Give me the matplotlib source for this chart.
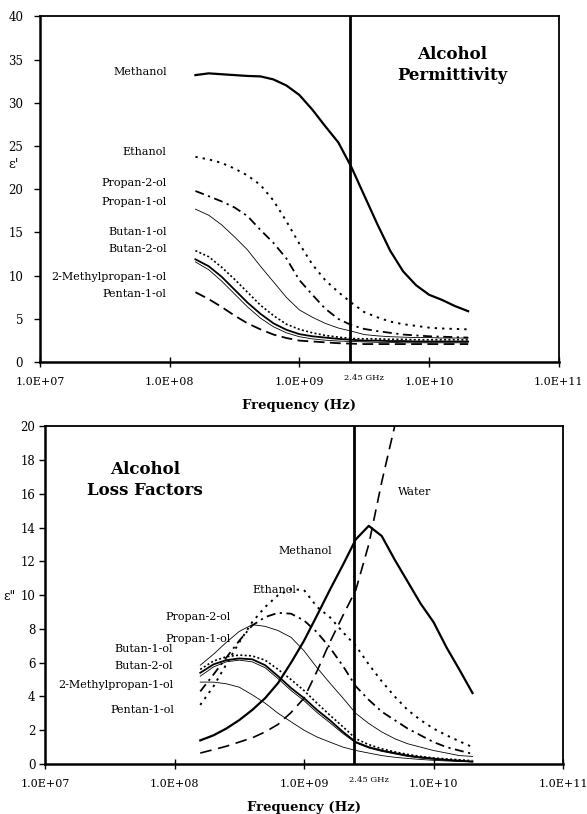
import math
import matplotlib
matplotlib.use("Agg")
import matplotlib.pyplot as plt
from matplotlib.ticker import FixedLocator, FuncFormatter

plt.rcParams["font.family"] = ["DejaVu Serif"]

# measurement frequencies (Hz)
freq = [1.58e8, 2.0e8, 2.51e8, 3.16e8, 3.98e8, 5.01e8, 6.31e8, 7.94e8,
        1.0e9, 1.26e9, 1.58e9, 2.0e9, 2.51e9, 3.16e9, 3.98e9, 5.01e9,
        6.31e9, 7.94e9, 1.0e10, 1.26e10, 1.58e10, 2.0e10]
water_freq = freq[:16]

# --- permittivity e' ---
perm_methanol = [33.2, 33.4, 33.3, 33.2, 33.1, 33.05, 32.7, 32.0, 30.9, 29.2, 27.3,
                 25.4, 22.6, 19.3, 16.0, 12.9, 10.5, 8.9, 7.8, 7.2, 6.5, 5.9]
perm_ethanol = [23.75, 23.45, 23.05, 22.4, 21.6, 20.5, 18.7, 16.3, 13.7, 11.3, 9.5,
                8.1, 6.9, 5.8, 5.2, 4.7, 4.4, 4.2, 4.0, 3.9, 3.85, 3.8]
perm_propan2 = [19.8, 19.2, 18.6, 17.9, 16.9, 15.3, 13.8, 12.0, 9.5, 7.8, 6.2,
                5.0, 4.3, 3.85, 3.6, 3.4, 3.2, 3.1, 3.0, 2.95, 2.9, 2.85]
perm_propan1 = [17.7, 17.0, 15.9, 14.5, 13.0, 11.1, 9.3, 7.5, 6.05, 5.2, 4.5,
                3.95, 3.6, 3.2, 3.05, 2.95, 2.9, 2.85, 2.85, 2.8, 2.8, 2.8]
perm_butan1 = [12.9, 12.2, 11.0, 9.6, 8.1, 6.6, 5.4, 4.4, 3.8, 3.4, 3.1,
               2.9, 2.75, 2.7, 2.7, 2.65, 2.65, 2.6, 2.6, 2.6, 2.6, 2.6]
perm_butan2 = [11.9, 11.1, 9.9, 8.4, 6.9, 5.6, 4.5, 3.75, 3.25, 3.0, 2.85,
               2.7, 2.6, 2.5, 2.5, 2.45, 2.45, 2.4, 2.4, 2.4, 2.4, 2.4]
perm_methylpropan = [11.6, 10.7, 9.4, 7.9, 6.4, 5.1, 4.1, 3.4, 2.95, 2.7, 2.55,
                     2.45, 2.4, 2.35, 2.3, 2.3, 2.25, 2.25, 2.25, 2.25, 2.25, 2.25]
perm_pentan = [8.1, 7.3, 6.4, 5.4, 4.5, 3.8, 3.2, 2.8, 2.5, 2.4, 2.3,
               2.2, 2.15, 2.1, 2.1, 2.1, 2.1, 2.1, 2.1, 2.1, 2.1, 2.1]

# --- loss factor e'' ---
loss_water = [0.65, 0.85, 1.05, 1.3, 1.55, 1.9, 2.35, 3.05, 3.9, 5.5, 7.2,
              8.8, 10.3, 13.0, 16.7, 20.0]
loss_methanol = [1.4, 1.7, 2.1, 2.6, 3.2, 3.9, 4.8, 6.0, 7.3, 8.8, 10.3,
                 11.8, 13.3, 14.1, 13.5, 12.1, 10.8, 9.5, 8.4, 6.9, 5.6, 4.2]
loss_ethanol = [3.5, 4.6, 5.9, 7.2, 8.4, 9.3, 10.0, 10.35, 10.3, 9.3, 8.7,
                7.8, 7.0, 5.9, 4.9, 4.0, 3.2, 2.6, 2.1, 1.7, 1.35, 1.0]
loss_propan2 = [4.3, 5.3, 6.3, 7.3, 8.2, 8.7, 8.95, 8.9, 8.5, 7.8, 6.9,
                5.8, 4.6, 3.8, 3.1, 2.6, 2.1, 1.7, 1.3, 1.0, 0.8, 0.6]
loss_propan1 = [5.85, 6.5, 7.2, 7.85, 8.25, 8.15, 7.9, 7.5, 6.7, 5.7, 4.8,
                3.9, 3.0, 2.4, 1.9, 1.5, 1.2, 1.0, 0.8, 0.65, 0.5, 0.45]
loss_butan1 = [5.6, 6.1, 6.35, 6.45, 6.4, 6.15, 5.6, 5.0, 4.35, 3.6, 2.9,
               2.2, 1.5, 1.15, 0.9, 0.72, 0.57, 0.45, 0.36, 0.3, 0.25, 0.2]
loss_butan2 = [5.4, 5.9, 6.15, 6.25, 6.2, 5.85, 5.2, 4.5, 3.9, 3.2, 2.6,
               1.9, 1.3, 1.0, 0.8, 0.65, 0.5, 0.4, 0.32, 0.25, 0.2, 0.15]
loss_methylpropan = [5.2, 5.75, 6.05, 6.15, 6.05, 5.7, 5.05, 4.35, 3.75, 3.05, 2.45,
                     1.8, 1.25, 0.95, 0.75, 0.6, 0.45, 0.35, 0.28, 0.22, 0.17, 0.13]
loss_pentan = [4.85, 4.85, 4.75, 4.55, 4.1, 3.6, 3.0, 2.5, 2.0, 1.6, 1.3,
               1.0, 0.8, 0.65, 0.5, 0.4, 0.33, 0.27, 0.22, 0.18, 0.15, 0.12]

# line styles
SOLID_THICK = dict(ls="-", lw=1.6)
SOLID_MED = dict(ls="-", lw=1.3)
SOLID_THIN = dict(ls="-", lw=0.6)
DOT_SPARSE = dict(ls=(0, (1.2, 2.6)), lw=1.4)
DOT_DENSE = dict(ls=(0, (1.2, 1.4)), lw=1.2)
DASH_DOT = dict(ls=(0, (5, 2.5, 1.2, 2.5)), lw=1.3)
DASHED = dict(ls=(0, (6, 3)), lw=1.3)


def fmt_freq(v, pos):
    return "1.0E+%02d" % round(math.log10(v))


def style_axes(ax, ymax, ystep, ypad):
    ax.set_xscale("log")
    ax.set_xlim(1e7, 1e11)
    ax.set_ylim(0, ymax)
    ax.xaxis.set_major_locator(FixedLocator([1e7, 1e8, 1e9, 1e10, 1e11]))
    ax.xaxis.set_major_formatter(FuncFormatter(fmt_freq))
    ax.xaxis.set_minor_locator(FixedLocator([]))
    ax.set_yticks(range(0, ymax + 1, ystep))
    ax.tick_params(axis="x", direction="inout", length=7, width=1, labelsize=8, pad=7)
    ax.tick_params(axis="y", direction="out", length=4, width=1, labelsize=8.5, pad=ypad)
    for side in ["left", "bottom"]:
        ax.spines[side].set_linewidth(1.8)
    for side in ["top", "right"]:
        ax.spines[side].set_linewidth(1.3)
    ax.axvline(2.45e9, color="black", lw=2)
    ax.annotate("2.45 GHz", xy=(2.45e9, 0), xycoords=("data", "axes fraction"),
                xytext=(-4, -13), textcoords="offset points", fontsize=6, ha="left")
    ax.set_xlabel("Frequency (Hz)", fontsize=9.5, fontweight="bold", labelpad=9)


fig = plt.figure(figsize=(5.87, 8.14), dpi=100)
ax1 = fig.add_axes([0.068, 0.555, 0.884, 0.425])
ax2 = fig.add_axes([0.0767, 0.0614, 0.8825, 0.415])

# --- top panel: permittivity ---
top_series = [
    (perm_methanol, SOLID_THICK), (perm_ethanol, DOT_SPARSE),
    (perm_propan2, DASH_DOT), (perm_propan1, SOLID_THIN),
    (perm_butan1, DOT_DENSE), (perm_butan2, SOLID_MED),
    (perm_methylpropan, SOLID_THIN), (perm_pentan, DASHED),
]
for vals, st in top_series:
    ax1.plot(freq, vals, color="black", **st)
style_axes(ax1, 40, 5, 8)

top_labels = [("Methanol", 33.6), ("Ethanol", 24.3), ("Propan-2-ol", 20.7),
              ("Propan-1-ol", 18.5), ("Butan-1-ol", 15.0), ("Butan-2-ol", 13.1),
              ("2-Methylpropan-1-ol", 9.9), ("Pentan-1-ol", 7.9)]
for name, y in top_labels:
    ax1.text(9.5e7, y, name, fontsize=8, ha="right", va="center")
ax1.text(1.5e10, 34.4, "Alcohol\nPermittivity", fontsize=12, fontweight="bold",
         ha="center", va="center", linespacing=1.3)
fig.text(0.024, 1 - 164 / 814, "ε'", fontsize=9.5, ha="center", va="center")

# --- bottom panel: loss factors ---
ax2.plot(water_freq, loss_water, color="black", ls=(0, (7, 4)), lw=1.2)
bot_series = [
    (loss_methanol, SOLID_THICK), (loss_ethanol, DOT_SPARSE),
    (loss_propan2, DASH_DOT), (loss_propan1, SOLID_THIN),
    (loss_butan1, DOT_DENSE), (loss_butan2, SOLID_MED),
    (loss_methylpropan, SOLID_THIN), (loss_pentan, SOLID_THIN),
]
for vals, st in bot_series:
    ax2.plot(freq, vals, color="black", **st)
style_axes(ax2, 20, 2, 3)

bot_labels = [("Propan-2-ol", 2.7e8, 8.7), ("Propan-1-ol", 2.7e8, 7.4),
              ("Butan-1-ol", 9.8e7, 6.8), ("Butan-2-ol", 9.8e7, 5.8),
              ("2-Methylpropan-1-ol", 9.8e7, 4.7), ("Pentan-1-ol", 1.0e8, 3.2)]
for name, x, y in bot_labels:
    ax2.text(x, y, name, fontsize=8, ha="right", va="center")
ax2.text(4.0e8, 10.3, "Ethanol", fontsize=8, ha="left", va="center")
ax2.text(6.3e8, 12.6, "Methanol", fontsize=8, ha="left", va="center")
ax2.text(5.3e9, 16.1, "Water", fontsize=8, ha="left", va="center")
ax2.text(5.9e7, 16.8, "Alcohol\nLoss Factors", fontsize=12, fontweight="bold",
         ha="center", va="center", linespacing=1.3)
fig.text(0.017, 1 - 596 / 814, 'ε"', fontsize=9, ha="center", va="center")

fig.savefig("out.png", dpi=100)
